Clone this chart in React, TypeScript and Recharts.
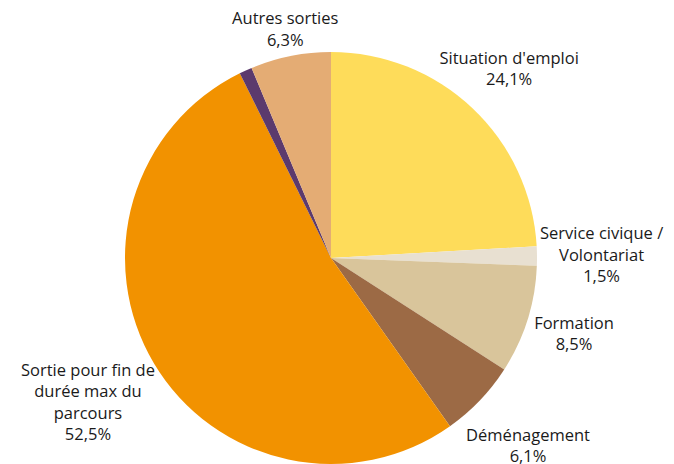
import { PieChart, Pie, Cell } from 'recharts';

const CATEGORIES = [
  "Situation d'emploi",
  'Service civique / Volontariat',
  'Formation',
  'Déménagement',
  'Sortie pour fin de durée max du parcours',
  'Non renseigné',
  'Autres sorties',
];
const SHARES = [24.1, 1.5, 8.5, 6.1, 52.5, 1.0, 6.3];
const SHOW_LABEL = [true, true, true, true, true, false, true];

const COLORS = ['#FEDC5A', '#E8E0D1', '#D9C59B', '#9C6A45', '#F29200', '#5C3A6D', '#E4AC74'];

const FONT = "'Open Sans', sans-serif";
const FONT_SIZE = 16.5;
const LINE_H = 21.5;
const WRAP_WIDTH = 150;

const data = CATEGORIES.map((name, i) => ({ name, value: SHARES[i] }));

const ctx = document.createElement('canvas').getContext('2d');
const measure = (s: string) => {
  if (!ctx) return s.length * 8;
  ctx.font = `${FONT_SIZE}px ${FONT}`;
  return ctx.measureText(s).width;
};

const wrap = (text: string) => {
  const words = text.split(' ');
  const lines: string[] = [];
  let cur = '';
  words.forEach((w) => {
    const next = cur ? `${cur} ${w}` : w;
    if (cur && measure(next) > WRAP_WIDTH) {
      lines.push(cur);
      cur = w;
    } else {
      cur = next;
    }
  });
  if (cur) lines.push(cur);
  return lines;
};

const fmt = (v: number) => `${v.toFixed(1).replace('.', ',')}%`;

// label block centred on the slice's mid angle, pushed out by its own half-size
const renderLabel = (props: any) => {
  const { cx, cy, midAngle, outerRadius, index, value } = props;
  if (!SHOW_LABEL[index]) return null;
  const rad = (midAngle * Math.PI) / 180;
  const dx = Math.cos(rad);
  const dy = -Math.sin(rad);
  const lines = [...wrap(CATEGORIES[index]), fmt(value)];
  const w = Math.max(...lines.map(measure));
  const h = lines.length * LINE_H;
  const half = Math.sqrt((dx * w / 2) ** 2 + (dy * h / 2) ** 2);
  const gap = 3 + 24 * Math.max(0, dy);
  const dist = outerRadius + gap + half;
  const bx = cx + dist * dx;
  const by = cy + dist * dy;
  const top = by - h / 2;
  return (
    <text x={bx} y={top} textAnchor="middle" fill="#1a1a1a" fontFamily={FONT} fontSize={FONT_SIZE}>
      {lines.map((l, i) => (
        <tspan key={i} x={bx} y={top + LINE_H * i + LINE_H * 0.74}>
          {l}
        </tspan>
      ))}
    </text>
  );
};

export default function App() {
  return (
    <div style={{ position: 'absolute', left: 0, top: 0, width: 674, height: 464, background: '#fff' }}>
      <PieChart width={674} height={464} margin={{ top: 0, right: 0, bottom: 0, left: 0 }}>
        <Pie
          data={data}
          dataKey="value"
          nameKey="name"
          cx={331}
          cy={258}
          outerRadius={206}
          startAngle={90}
          endAngle={-270}
          stroke="none"
          label={renderLabel}
          labelLine={false}
          isAnimationActive={false}
        >
          {data.map((entry, i) => (
            <Cell key={entry.name} fill={COLORS[i]} />
          ))}
        </Pie>
      </PieChart>
    </div>
  );
}
